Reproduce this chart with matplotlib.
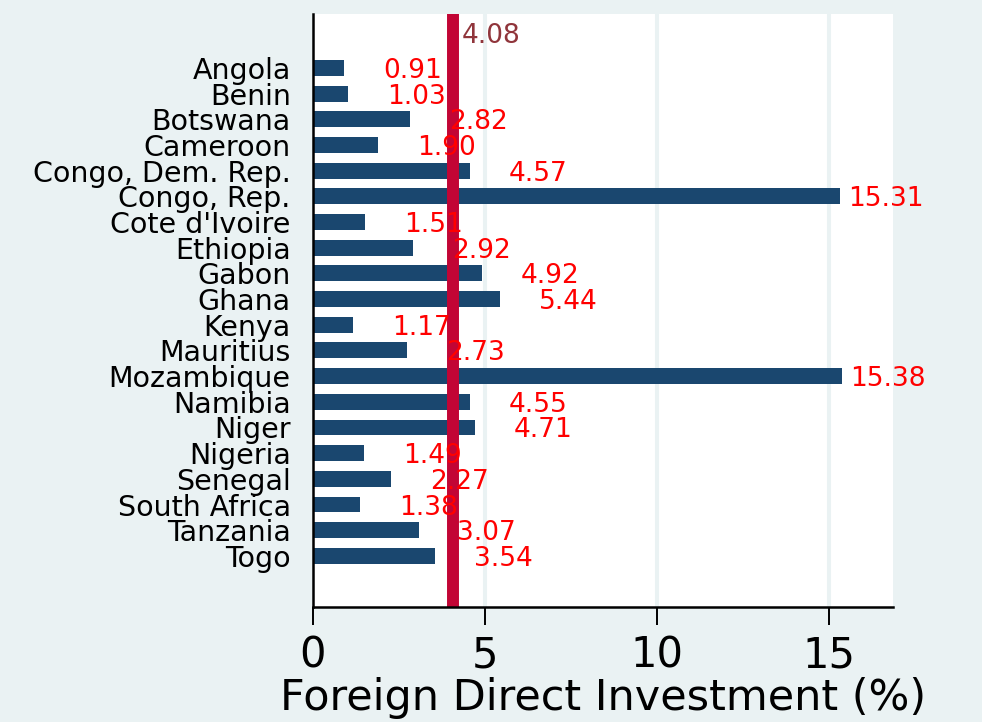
import matplotlib
matplotlib.use("Agg")
import matplotlib.pyplot as plt
import numpy as np

countries = ["Angola", "Benin", "Botswana", "Cameroon", "Congo, Dem. Rep.",
             "Congo, Rep.", "Cote d'Ivoire", "Ethiopia", "Gabon", "Ghana",
             "Kenya", "Mauritius", "Mozambique", "Namibia", "Niger",
             "Nigeria", "Senegal", "South Africa", "Tanzania", "Togo"]
fdi = [0.91, 1.03, 2.82, 1.90, 4.57, 15.31, 1.51, 2.92, 4.92, 5.44,
       1.17, 2.73, 15.38, 4.55, 4.71, 1.49, 2.27, 1.38, 3.07, 3.54]
mean_fdi = 4.08
xticks = [0, 5, 10, 15]
xlabel = "Foreign Direct Investment (%)"

BG = "#EAF2F3"
BAR = "#1A476F"
LINE = "#C20535"

plt.rcParams['font.family'] = ['DejaVu Sans']

fig = plt.figure(figsize=(9.82, 7.22), dpi=100, facecolor=BG)
ax = fig.add_axes([0.3187, 0.1593, 0.9094 - 0.3187, 0.9806 - 0.1593])
ax.set_facecolor("white")

y = np.arange(len(countries))
ax.barh(y, fdi, height=0.62, color=BAR, zorder=3)

ax.axvline(mean_fdi, color=LINE, lw=8.6, zorder=4)
ax.text(mean_fdi + 0.25, -1.36, f"{mean_fdi:.2f}", color="#90353B",
        fontsize=19, va="center_baseline", ha="left", zorder=6)

for yi, v in zip(y, fdi):
    pad = 0.24 if v > 10 else 1.13
    ax.text(v + pad, yi, f"{v:.2f}", color="red", fontsize=19,
            va="center_baseline", ha="left", zorder=5)

ax.set_xlim(0, 16.86)
ax.set_ylim(20.99, -2.10)
ax.set_yticks(y)
ax.set_yticklabels(countries, fontsize=20.5)
ax.set_xticks(xticks)
ax.set_xticklabels([str(t) for t in xticks], fontsize=30)
ax.tick_params(axis="y", length=0, pad=16)
ax.tick_params(axis="x", length=13, width=1.4, pad=7)
ax.set_xlabel(xlabel, fontsize=31, labelpad=0)

for t in [5, 10, 15]:
    ax.axvline(t, color=BG, lw=2.9, zorder=1)

for s in ["top", "right"]:
    ax.spines[s].set_visible(False)
for s in ["left", "bottom"]:
    ax.spines[s].set_linewidth(1.8)
    ax.spines[s].set_color("black")
    ax.spines[s].set_zorder(7)

fig.savefig("out.png", dpi=100, facecolor=BG)
